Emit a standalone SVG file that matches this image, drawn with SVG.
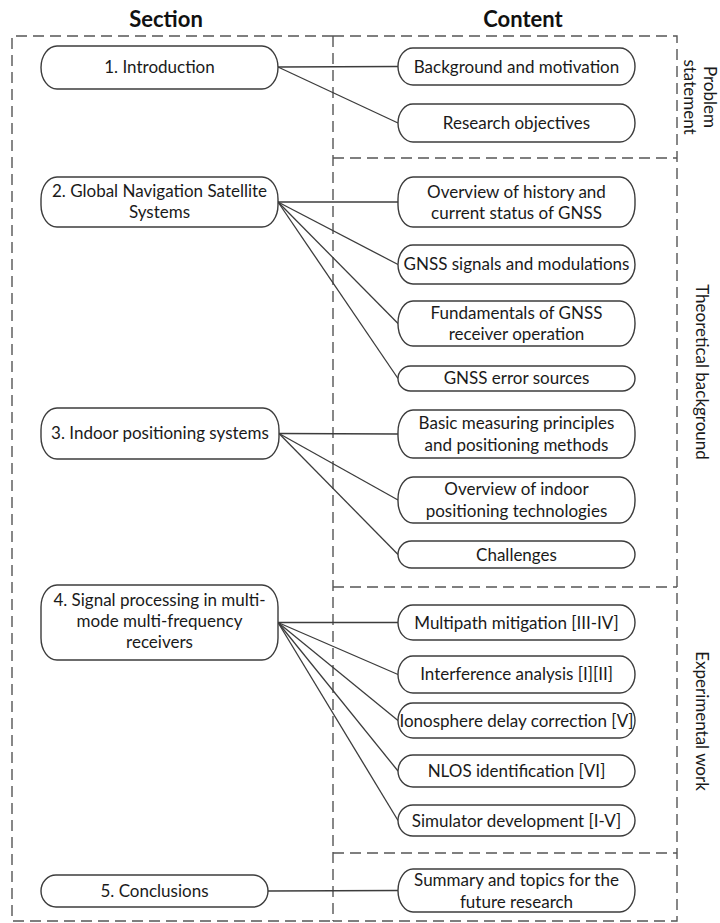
<svg xmlns="http://www.w3.org/2000/svg" width="720" height="923" viewBox="0 0 720 923">
<style>
  .bg { fill: #ffffff; }
  .node rect { fill: #ffffff; stroke: #3c3c3c; stroke-width: 1.4; }
  .node text, .lbl { font-family: "Lato", "Liberation Sans", sans-serif; font-size: 17px; fill: #1a1a1a; text-anchor: middle; }
  .title { font-family: "Lato", "Liberation Sans", sans-serif; font-size: 22px; font-weight: bold; fill: #111; text-anchor: middle; }
  .dash { fill: none; stroke: #555; stroke-width: 1.4; stroke-dasharray: 11 6; }
  #connectors line { stroke: #3c3c3c; stroke-width: 1.3; }
</style>
<rect class="bg" x="0" y="0" width="720" height="923"/>
<text class="title" x="166" y="27">Section</text>
<text class="title" x="523" y="27">Content</text>

<g id="frames">
  <path class="dash" d="M333 36 H12 V921 H333"/>
  <path class="dash" d="M333 36 V921"/>
  <path class="dash" d="M333 36 H677 V921 H333"/>
  <path class="dash" d="M333 158 H677"/>
  <path class="dash" d="M333 587 H677"/>
  <path class="dash" d="M333 853 H677"/>
</g>

<g id="side-labels">
  <text class="lbl" transform="translate(704,97) rotate(90)">Problem</text>
  <text class="lbl" transform="translate(684,97) rotate(90)">statement</text>
  <text class="lbl" transform="translate(696,372) rotate(90)">Theoretical background</text>
  <text class="lbl" transform="translate(696,721) rotate(90)">Experimental work</text>
</g>

<g id="connectors">
  <line x1="278" y1="67" x2="398" y2="66.5"/>
  <line x1="278" y1="67" x2="398" y2="123"/>
  <line x1="278" y1="202" x2="398" y2="202"/>
  <line x1="278" y1="202" x2="398" y2="264.5"/>
  <line x1="278" y1="202" x2="398" y2="323.5"/>
  <line x1="278" y1="202" x2="398" y2="378.5"/>
  <line x1="279" y1="433.5" x2="398" y2="434"/>
  <line x1="279" y1="433.5" x2="398" y2="500"/>
  <line x1="279" y1="433.5" x2="398" y2="554.5"/>
  <line x1="278" y1="622.5" x2="398" y2="622.5"/>
  <line x1="278" y1="622.5" x2="398" y2="674.5"/>
  <line x1="278" y1="622.5" x2="398" y2="720.5"/>
  <line x1="278" y1="622.5" x2="398" y2="771"/>
  <line x1="278" y1="622.5" x2="398" y2="820.5"/>
  <line x1="268" y1="891" x2="398" y2="890.5"/>
</g>

<g id="s1" class="node"><rect x="41" y="46" width="237" height="43" rx="16" ry="21.5"/><text x="159.5" y="73">1. Introduction</text></g>
<g id="s2" class="node"><rect x="41" y="177" width="237" height="50" rx="16" ry="22"/><text x="159.5" y="197">2. Global Navigation Satellite</text><text x="159.5" y="218">Systems</text></g>
<g id="s3" class="node"><rect x="41" y="408" width="238" height="51" rx="16" ry="22"/><text x="160" y="439">3. Indoor positioning systems</text></g>
<g id="s4" class="node"><rect x="41" y="585" width="237" height="75" rx="16" ry="22"/><text x="159.5" y="606">4. Signal processing in multi-</text><text x="159.5" y="627">mode multi-frequency</text><text x="159.5" y="648">receivers</text></g>
<g id="s5" class="node"><rect x="41" y="875" width="227" height="32" rx="15" ry="16"/><text x="154.5" y="897">5. Conclusions</text></g>

<g id="c1" class="node"><rect x="398" y="48" width="237" height="37" rx="15" ry="18.5"/><text x="516.5" y="73">Background and motivation</text></g>
<g id="c2" class="node"><rect x="398" y="104" width="237" height="38" rx="15" ry="19"/><text x="516.5" y="129">Research objectives</text></g>
<g id="c3" class="node"><rect x="398" y="177" width="237" height="50" rx="15" ry="22"/><text x="516.5" y="198">Overview of history and</text><text x="516.5" y="219">current status of GNSS</text></g>
<g id="c4" class="node"><rect x="398" y="245" width="237" height="39" rx="15" ry="19.5"/><text x="516.5" y="270">GNSS signals and modulations</text></g>
<g id="c5" class="node"><rect x="398" y="301" width="237" height="45" rx="15" ry="22"/><text x="516.5" y="319">Fundamentals of GNSS</text><text x="516.5" y="340">receiver operation</text></g>
<g id="c6" class="node"><rect x="398" y="366" width="237" height="25" rx="12.5" ry="12.5"/><text x="516.5" y="384">GNSS error sources</text></g>
<g id="c7" class="node"><rect x="398" y="410" width="237" height="48" rx="15" ry="22"/><text x="516.5" y="429">Basic measuring principles</text><text x="516.5" y="451">and positioning methods</text></g>
<g id="c8" class="node"><rect x="398" y="477" width="237" height="46" rx="15" ry="22"/><text x="516.5" y="495">Overview of indoor</text><text x="516.5" y="517">positioning technologies</text></g>
<g id="c9" class="node"><rect x="398" y="541" width="237" height="27" rx="13.5" ry="13.5"/><text x="516.5" y="561">Challenges</text></g>
<g id="c10" class="node"><rect x="398" y="605" width="237" height="35" rx="15" ry="17.5"/><text x="516.5" y="629">Multipath mitigation [III-IV]</text></g>
<g id="c11" class="node"><rect x="398" y="656" width="237" height="37" rx="15" ry="18.5"/><text x="516.5" y="680">Interference analysis [I][II]</text></g>
<g id="c12" class="node"><rect x="398" y="703" width="237" height="35" rx="15" ry="17.5"/><text x="516.5" y="727">Ionosphere delay correction [V]</text></g>
<g id="c13" class="node"><rect x="398" y="755" width="237" height="32" rx="15" ry="16"/><text x="516.5" y="777">NLOS identification [VI]</text></g>
<g id="c14" class="node"><rect x="398" y="805" width="237" height="31" rx="15" ry="15.5"/><text x="516.5" y="827">Simulator development [I-V]</text></g>
<g id="c15" class="node"><rect x="398" y="869" width="237" height="43" rx="15" ry="21.5"/><text x="516.5" y="886">Summary and topics for the</text><text x="516.5" y="908">future research</text></g>
</svg>
